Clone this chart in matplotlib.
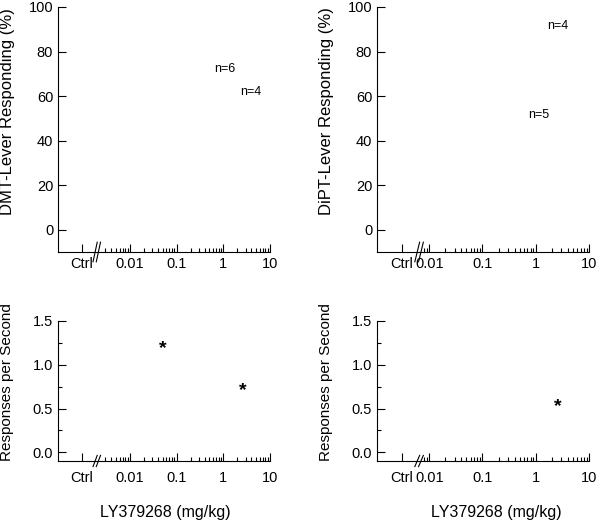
import matplotlib
matplotlib.use('Agg')
import matplotlib.pyplot as plt
import matplotlib.transforms as mtransforms

plt.rcParams['font.family'] = ['Liberation Sans', 'DejaVu Sans']

# dose axis labels
tick_labels = ['Ctrl', '0.01', '0.1', '1', '10']
major_doses = [0.01, 0.1, 1, 10]

# panel annotations (dose, value, text)
dmt_n_doses = [1.07, 3.9]
dmt_n_vals = [72, 62]
dmt_n_text = ['n=6', 'n=4']

dipt_n_doses = [2.6, 1.15]
dipt_n_vals = [91.5, 51.6]
dipt_n_text = ['n=4', 'n=5']

dmt_star_doses = [0.05, 2.6]
dmt_star_vals = [1.19, 0.71]

dipt_star_doses = [2.6]
dipt_star_vals = [0.52]

W, H = 600, 523
fig = plt.figure(figsize=(W / 100, H / 100), dpi=100)


def px_axes(l, r, t, b):
    return fig.add_axes([l / W, 1 - b / H, (r - l) / W, (b - t) / H])


def setup_dose_axis(ax, xmin, ctrl_x, break_x, minor_start, pad):
    ax.set_xscale('log')
    ax.set_xlim(xmin, 10)
    ax.set_xticks([ctrl_x] + major_doses)
    ax.set_xticklabels(tick_labels, fontsize=10.5)
    minors = [m * d for d in [0.001, 0.01, 0.1, 1] for m in range(2, 10)]
    minors = [v for v in minors if v >= minor_start]
    ax.set_xticks(minors, minor=True)
    ax.xaxis.set_minor_formatter(matplotlib.ticker.NullFormatter())
    ax.tick_params(axis='x', which='major', direction='in', length=6, width=0.8, pad=pad)
    ax.tick_params(axis='x', which='minor', direction='in', length=3, width=0.8)
    ax.spines['top'].set_visible(False)
    ax.spines['right'].set_visible(False)
    for s in ['left', 'bottom']:
        ax.spines[s].set_linewidth(0.8)
    # axis break marks
    trans = mtransforms.blended_transform_factory(ax.transData, ax.transAxes)
    for dx in [-0.035, 0.035]:
        xc = break_x * 10 ** dx
        ax.plot([xc / 10 ** 0.045, xc * 10 ** 0.045], [-0.04, 0.04], transform=trans,
                color='black', lw=0.8, clip_on=False)


def setup_pct(ax, label):
    ax.set_ylim(-10, 100)
    ax.set_yticks([0, 20, 40, 60, 80, 100])
    ax.tick_params(axis='y', direction='in', length=6, width=0.8, labelsize=10.5)
    ax.set_ylabel(label, fontsize=12)
    ax.yaxis.set_label_coords(-0.205, 0.574)


def setup_rate(ax, xlabel_x):
    ax.set_ylim(-0.1, 1.5)
    ax.set_yticks([0.0, 0.5, 1.0, 1.5])
    ax.set_yticklabels(['0.0', '0.5', '1.0', '1.5'])
    ax.set_yticks([0.25, 0.75, 1.25], minor=True)
    ax.tick_params(axis='y', which='major', direction='in', length=6, width=0.8, labelsize=10.5)
    ax.tick_params(axis='y', which='minor', direction='in', length=3, width=0.8)
    ax.set_ylabel('Responses per Second', fontsize=11)
    ax.yaxis.set_label_coords(-0.208, 0.564)
    ax.set_xlabel('LY379268 (mg/kg)', fontsize=11.5)
    ax.xaxis.set_label_coords(xlabel_x, -0.315)


# left column: decade = 46.7 px, 0.01 at x=130
ax1 = px_axes(58, 270, 7, 252)
setup_dose_axis(ax1, 10 ** -3.54, 10 ** -3.03, 10 ** -2.71, 0.003, 3.5)
setup_pct(ax1, 'DMT-Lever Responding (%)')
for d, v, t in zip(dmt_n_doses, dmt_n_vals, dmt_n_text):
    ax1.text(d, v, t, fontsize=9, ha='center', va='center')

ax3 = px_axes(58, 270, 321, 461)
setup_dose_axis(ax3, 10 ** -3.54, 10 ** -3.03, 10 ** -2.71, 0.003, 7)
setup_rate(ax3, 0.505)
for d, v in zip(dmt_star_doses, dmt_star_vals):
    ax3.text(d, v, '*', fontsize=14, fontweight='bold', ha='center', va='center')

# right column: decade = 53.3 px, 0.01 at x=429
ax2 = px_axes(377, 589, 7, 252)
setup_dose_axis(ax2, 10 ** -2.98, 10 ** -2.51, 10 ** -2.19, 0.008, 3.5)
setup_pct(ax2, 'DiPT-Lever Responding (%)')
for d, v, t in zip(dipt_n_doses, dipt_n_vals, dipt_n_text):
    ax2.text(d, v, t, fontsize=9, ha='center', va='center')

ax4 = px_axes(377, 589, 321, 461)
setup_dose_axis(ax4, 10 ** -2.98, 10 ** -2.51, 10 ** -2.19, 0.008, 7)
setup_rate(ax4, 0.561)
for d, v in zip(dipt_star_doses, dipt_star_vals):
    ax4.text(d, v, '*', fontsize=14, fontweight='bold', ha='center', va='center')

fig.savefig('out.png', dpi=100)
